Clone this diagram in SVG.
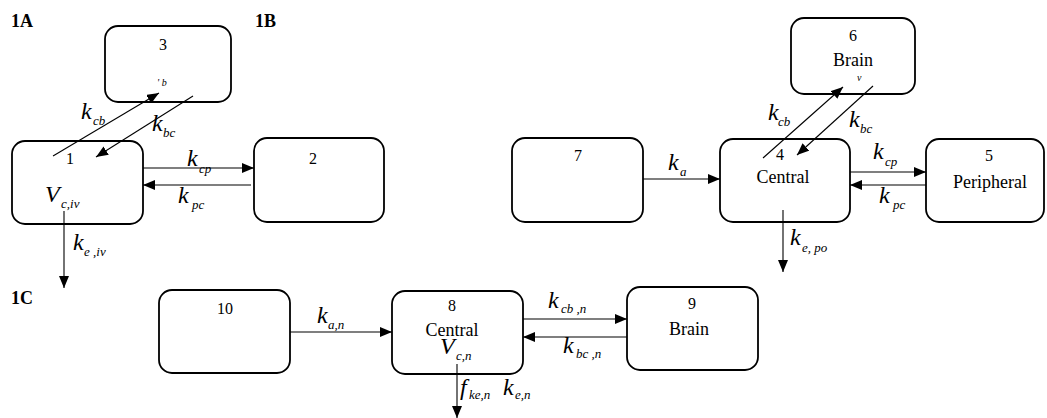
<svg xmlns="http://www.w3.org/2000/svg" width="1047" height="418" viewBox="0 0 1047 418">
<style>
.box{fill:#fff;stroke:#000;stroke-width:1.8}
.ln{stroke:#000;stroke-width:1.1;fill:none}
.num{font-family:'Liberation Serif',serif;font-size:16px;text-anchor:middle;fill:#000}
.nm{font-family:'Liberation Serif',serif;font-size:18px;text-anchor:middle;fill:#000}
.sec{font-family:'Liberation Serif',serif;font-size:18px;font-weight:bold;fill:#000}
.k{font-family:'Liberation Serif',serif;font-size:24px;font-style:italic;fill:#000}
.s{font-size:13px}
.tiny{font-family:'Liberation Serif',serif;font-size:10px;font-style:italic;fill:#000}
</style>
<defs>
<marker id="ah" viewBox="0 0 12 10" refX="12" refY="5" markerWidth="12" markerHeight="10" markerUnits="userSpaceOnUse" orient="auto">
<path d="M0,0 L12,5 L0,10 z" fill="#000"/>
</marker>
</defs>
<rect width="1047" height="418" fill="#fff"/>
<text class="sec" x="11" y="27">1A</text>
<text class="sec" x="255" y="27">1B</text>
<text class="sec" x="11" y="304">1C</text>

<g id="node3"><rect class="box" x="105" y="26" width="126" height="76" rx="13"/><text class="num" x="163" y="50">3</text><text class="tiny" x="157" y="86">' b</text></g>
<g id="node1"><rect class="box" x="12" y="141" width="131" height="83" rx="13"/><text class="num" x="70" y="164">1</text><text class="k" x="45" y="202">V<tspan class="s" x="61" y="208">c,iv</tspan></text></g>
<g id="node2"><rect class="box" x="254" y="138" width="130" height="84" rx="13"/><text class="num" x="313" y="164">2</text></g>

<g id="node6"><rect class="box" x="791" y="18" width="124" height="76" rx="13"/><text class="num" x="853" y="41">6</text><text class="nm" x="853" y="66">Brain</text><text class="tiny" x="857" y="81">v</text></g>
<g id="node7"><rect class="box" x="512" y="138" width="131" height="84" rx="13"/><text class="num" x="578" y="161">7</text></g>
<g id="node4"><rect class="box" x="720" y="139" width="130" height="83" rx="13"/><text class="num" x="780" y="160">4</text><text class="nm" x="783" y="183">Central</text></g>
<g id="node5"><rect class="box" x="926" y="139" width="118" height="83" rx="13"/><text class="num" x="989" y="161">5</text><text class="nm" x="990" y="188">Peripheral</text></g>

<g id="node10"><rect class="box" x="159" y="290" width="131" height="83" rx="13"/><text class="num" x="225" y="314">10</text></g>
<g id="node8"><rect class="box" x="392" y="291" width="131" height="83" rx="13"/><text class="num" x="452" y="311">8</text><text class="nm" x="452" y="336">Central</text><text class="k" x="440" y="354">V<tspan class="s" x="456" y="360">c,n</tspan></text></g>
<g id="node9"><rect class="box" x="627" y="287" width="131" height="83" rx="13"/><text class="num" x="692" y="309">9</text><text class="nm" x="689" y="335">Brain</text></g>

<g id="connectors">
<line class="ln" x1="53" y1="156" x2="159" y2="93" marker-end="url(#ah)"/>
<line class="ln" x1="193" y1="96" x2="96" y2="157" marker-end="url(#ah)"/>
<line class="ln" x1="143" y1="168" x2="254" y2="168" marker-end="url(#ah)"/>
<line class="ln" x1="251" y1="185" x2="143" y2="185" marker-end="url(#ah)"/>
<line class="ln" x1="64" y1="211" x2="64" y2="288" marker-end="url(#ah)"/>
<line class="ln" x1="763" y1="158" x2="843" y2="87" marker-end="url(#ah)"/>
<line class="ln" x1="873" y1="86" x2="797" y2="155" marker-end="url(#ah)"/>
<line class="ln" x1="643" y1="179" x2="720" y2="179" marker-end="url(#ah)"/>
<line class="ln" x1="850" y1="172" x2="926" y2="172" marker-end="url(#ah)"/>
<line class="ln" x1="926" y1="185" x2="850" y2="185" marker-end="url(#ah)"/>
<line class="ln" x1="783" y1="210" x2="783" y2="272" marker-end="url(#ah)"/>
<line class="ln" x1="290" y1="332" x2="392" y2="332" marker-end="url(#ah)"/>
<line class="ln" x1="523" y1="319" x2="627" y2="319" marker-end="url(#ah)"/>
<line class="ln" x1="627" y1="337" x2="523" y2="337" marker-end="url(#ah)"/>
<line class="ln" x1="457" y1="364" x2="457" y2="418" marker-end="url(#ah)"/>

<text class="k" x="81" y="119">k<tspan class="s" x="93" y="125">cb</tspan></text>
<text class="k" x="152" y="131">k<tspan class="s" x="163" y="137">bc</tspan></text>
<text class="k" x="187" y="166">k<tspan class="s" x="199" y="173">cp</tspan></text>
<text class="k" x="178" y="203">k<tspan class="s" x="192" y="209">pc</tspan></text>
<text class="k" x="73" y="250">k<tspan class="s" x="84" y="256">e ,iv</tspan></text>

<text class="k" x="768" y="120">k<tspan class="s" x="778" y="126">cb</tspan></text>
<text class="k" x="849" y="127">k<tspan class="s" x="860" y="133">bc</tspan></text>
<text class="k" x="668" y="170">k<tspan class="s" x="680" y="176">a</tspan></text>
<text class="k" x="873" y="159">k<tspan class="s" x="885" y="166">cp</tspan></text>
<text class="k" x="879" y="203">k<tspan class="s" x="893" y="209">pc</tspan></text>
<text class="k" x="790" y="245">k<tspan class="s" x="802" y="252">e, po</tspan></text>

<text class="k" x="317" y="323">k<tspan class="s" x="328" y="329">a,n</tspan></text>
<text class="k" x="548" y="308">k<tspan class="s" x="561" y="313">cb ,n</tspan></text>
<text class="k" x="563" y="353">k<tspan class="s" x="576" y="358">bc ,n</tspan></text>
<text class="k" x="460" y="395">f<tspan class="s" x="469" y="399">ke,n</tspan><tspan x="503" y="395">k</tspan><tspan class="s" x="515" y="399">e,n</tspan></text>
</g>
</svg>
